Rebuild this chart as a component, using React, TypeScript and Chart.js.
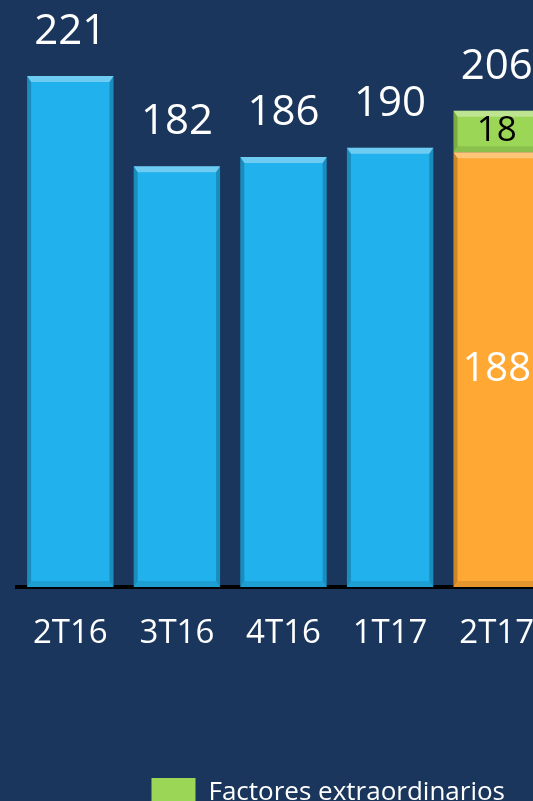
import React, { useEffect, useRef } from "react";
import { Chart, registerables } from "chart.js";

Chart.register(...registerables);

// ---- data ----
const categories = ["2T16", "3T16", "4T16", "1T17", "2T17"];
const baseValues = [221, 182, 186, 190, 188];
const extraValues: (number | null)[] = [null, null, null, null, 18];
const baseLabel = "Resultado";
const extraLabel = "Factores extraordinarios";
const yMin = 0;
const yMax = 240;

// ---- style ----
const BG = "#1a365c";
const BLUE = "#21b1ec";
const ORANGE = "#ffa834";
const GREEN = "#9bd656";
const FONT = "'Open Sans', 'Noto Sans', sans-serif";
const CANVAS_W = 550;
const CANVAS_H = 818;

const bevelPlugin = {
  id: "bevel",
  afterDatasetsDraw(chart: any) {
    const ctx: CanvasRenderingContext2D = chart.ctx;
    chart.data.datasets.forEach((ds: any, di: number) => {
      const meta = chart.getDatasetMeta(di);
      meta.data.forEach((bar: any, i: number) => {
        if (ds.data[i] == null) return;
        const { x, y, base, width } = bar.getProps(["x", "y", "base", "width"], true);
        const left = x - width / 2;
        const right = x + width / 2;
        const top = Math.min(y, base);
        const bottom = Math.max(y, base);
        const bt = 6;
        const bs = 4;
        ctx.save();
        ctx.fillStyle = "rgba(255,255,255,0.35)";
        ctx.beginPath();
        ctx.moveTo(left, top);
        ctx.lineTo(right, top);
        ctx.lineTo(right - bs, top + bt);
        ctx.lineTo(left + bs, top + bt);
        ctx.closePath();
        ctx.fill();
        ctx.fillStyle = "rgba(0,0,0,0.2)";
        ctx.beginPath();
        ctx.moveTo(left, top);
        ctx.lineTo(left + bs, top + bt);
        ctx.lineTo(left + bs, bottom - bt);
        ctx.lineTo(left, bottom);
        ctx.closePath();
        ctx.fill();
        ctx.beginPath();
        ctx.moveTo(right, top);
        ctx.lineTo(right - bs, top + bt);
        ctx.lineTo(right - bs, bottom - bt);
        ctx.lineTo(right, bottom);
        ctx.closePath();
        ctx.fill();
        ctx.fillStyle = "rgba(0,0,0,0.1)";
        ctx.beginPath();
        ctx.moveTo(left, bottom);
        ctx.lineTo(left + bs, bottom - bt);
        ctx.lineTo(right - bs, bottom - bt);
        ctx.lineTo(right, bottom);
        ctx.closePath();
        ctx.fill();
        ctx.restore();
      });
    });
  },
};

const labelPlugin = {
  id: "valueLabels",
  afterDraw(chart: any) {
    const ctx: CanvasRenderingContext2D = chart.ctx;
    const meta0 = chart.getDatasetMeta(0);
    const meta1 = chart.getDatasetMeta(1);
    ctx.save();
    ctx.textAlign = "center";
    categories.forEach((_, i) => {
      const baseBar = meta0.data[i];
      const extraBar = meta1.data[i];
      const extra = extraValues[i];
      const hasExtra = extra != null;
      const total = baseValues[i] + (hasExtra ? (extra as number) : 0);
      const topY = hasExtra ? extraBar.y : baseBar.y;
      ctx.font = `42px ${FONT}`;
      ctx.fillStyle = "#ffffff";
      ctx.textBaseline = "alphabetic";
      ctx.fillText(String(total), baseBar.x, topY - 32);
      if (hasExtra) {
        ctx.textBaseline = "middle";
        ctx.font = `35px ${FONT}`;
        ctx.fillStyle = "#000000";
        ctx.fillText(String(extra), extraBar.x, (extraBar.y + extraBar.base) / 2);
        ctx.font = `40px ${FONT}`;
        ctx.fillStyle = "#ffffff";
        ctx.fillText(String(baseValues[i]), baseBar.x, (baseBar.y + baseBar.base) / 2);
      }
    });
    ctx.restore();
  },
};

export default function App() {
  const ref = useRef<HTMLCanvasElement | null>(null);

  useEffect(() => {
    if (!ref.current) return;
    const chart = new Chart(ref.current, {
      type: "bar",
      data: {
        labels: categories,
        datasets: [
          {
            label: baseLabel,
            data: baseValues,
            backgroundColor: (c: any) => (c.dataIndex === categories.length - 1 ? ORANGE : BLUE),
            borderWidth: 0,
            barPercentage: 0.81,
            categoryPercentage: 1,
          },
          {
            label: extraLabel,
            data: extraValues,
            backgroundColor: GREEN,
            borderWidth: 0,
            barPercentage: 0.81,
            categoryPercentage: 1,
          },
        ],
      },
      options: {
        responsive: false,
        animation: false,
        layout: { padding: { top: 32, left: 17, right: 0, bottom: 0 } },
        plugins: {
          legend: {
            position: "bottom",
            align: "end",
            labels: {
              boxWidth: 44,
              boxHeight: 30,
              padding: 45,
              color: "#ffffff",
              font: { family: FONT, size: 26 },
              filter: (item: any) => item.datasetIndex === 1,
            },
          },
          tooltip: { enabled: false },
        },
        scales: {
          x: {
            stacked: true,
            z: 1,
            grid: {
              display: true,
              drawOnChartArea: false,
              drawTicks: true,
              tickLength: 27,
              color: "rgba(0,0,0,0)",
            },
            border: { display: true, color: "#000000", width: 4 },
            ticks: {
              color: "#ffffff",
              font: { family: FONT, size: 33 },
              padding: 0,
              maxRotation: 0,
              autoSkip: false,
            },
            afterFit: (s: any) => {
              s.height = 146;
            },
          },
          y: { stacked: true, display: false, min: yMin, max: yMax },
        },
      } as any,
      plugins: [bevelPlugin, labelPlugin],
    });
    return () => chart.destroy();
  }, []);

  return (
    <div
      style={{
        position: "fixed",
        left: 0,
        top: 0,
        width: 533,
        height: 801,
        overflow: "hidden",
        background: BG,
      }}
    >
      <canvas
        ref={ref}
        width={CANVAS_W}
        height={CANVAS_H}
        style={{ display: "block", width: CANVAS_W, height: CANVAS_H }}
      />
    </div>
  );
}
